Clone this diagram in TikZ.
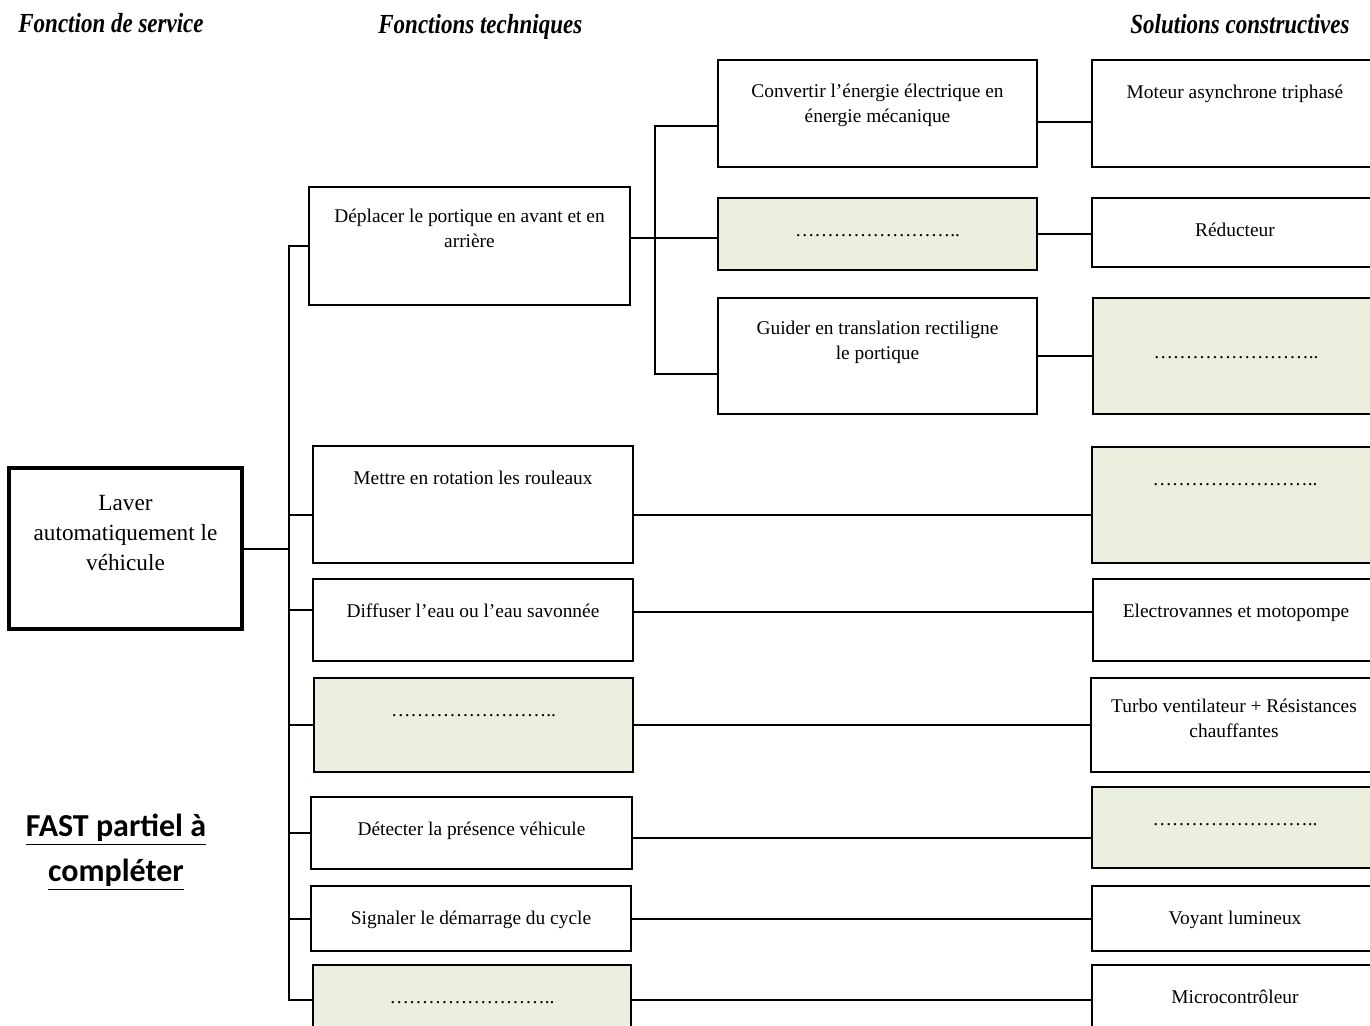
\documentclass[tikz,border=0pt]{standalone}
\usepackage{fontspec}
\setmainfont{Liberation Serif}
\newfontfamily\titlefont{Carlito}
\usepackage{graphicx}
\usetikzlibrary{positioning}
\definecolor{fillgreen}{RGB}{234,240,221}

\tikzset{
  box/.style={draw, line width=1.4pt, inner sep=0pt},
  todo/.style={box, fill=fillgreen},
  txt/.style={inner sep=0pt, anchor=north, align=center,
    font=\fontsize{9.7}{12.5}\selectfont, execute at begin node=\strut},
  link/.style={line width=1pt},
  head/.style={inner sep=0pt, anchor=base west,
    font=\fontsize{11.5}{14}\selectfont\bfseries\itshape}
}

\begin{document}
\begin{tikzpicture}[x=0.5pt, y=-0.5pt]
\clip (0,0) rectangle (1370,1025);
% column titles
\node[head] (fs) at (18,32) {\scalebox{1}[1.2]{Fonction de service}};
\node[head] (ft) at (378,33) {\scalebox{1}[1.2]{Fonctions techniques}};
\node[head] (sc) at (1130,33) {\scalebox{1}[1.2]{Solutions constructives}};

% service function
\node[box, line width=2pt, minimum width=116.5pt, minimum height=80.5pt] (laver) at (125.5,548.5) {};
\node[txt, font=\fontsize{11.6}{15}\selectfont] (laver-t) at ([yshift=-14.5pt]laver.north) {Laver\\automatiquement le\\véhicule};

% technical functions
\node[box, minimum width=160.5pt, minimum height=59pt] (dep) at (469.5,246) {};
\node[box, minimum width=160pt, minimum height=58.5pt] (rot) at (473,504.5) {};
\node[box, minimum width=160pt, minimum height=41pt] (dif) at (473,620) {};
\node[todo, minimum width=159.5pt, minimum height=47pt] (sec) at (473.5,725) {};
\node[box, minimum width=160.5pt, minimum height=36pt] (det) at (471.5,833) {};
\node[box, minimum width=160pt, minimum height=32.5pt] (sig) at (471,918.5) {};
\node[todo, minimum width=159pt, minimum height=35pt] (cmd) at (472,1000) {};

\node[txt] (dep-t) at ([yshift=-11.5pt]dep.north) {Déplacer le portique en avant et en\\arrière};
\node[txt] (rot-t) at ([yshift=-11pt]rot.north) {Mettre en rotation les rouleaux};
\node[txt] (dif-t) at ([yshift=-11pt]dif.north) {Diffuser l'eau ou l'eau savonnée};
\node[txt] (sec-t) at ([yshift=-11pt]sec.north) {……………………..};
\node[txt] (det-t) at ([yshift=-11pt]det.north) {Détecter la présence véhicule};
\node[txt] (sig-t) at ([yshift=-11pt]sig.north) {Signaler le démarrage du cycle};
\node[txt] (cmd-t) at ([yshift=-11pt]cmd.north) {……………………..};

% sub-functions of the gantry motion
\node[box, minimum width=159.5pt, minimum height=53.5pt] (conv) at (877.5,113.5) {};
\node[todo, minimum width=159.5pt, minimum height=36pt] (adap) at (877.5,234) {};
\node[box, minimum width=159.5pt, minimum height=58pt] (gui) at (877.5,356) {};

\node[txt] (conv-t) at ([yshift=-12.5pt]conv.north) {Convertir l'énergie électrique en\\énergie mécanique};
\node[txt] (adap-t) at ([yshift=-11pt]adap.north) {……………………..};
\node[txt] (gui-t) at ([yshift=-12pt]gui.north) {Guider en translation rectiligne\\le portique};

% constructive solutions
\node[box, minimum width=143pt, minimum height=53.5pt] (mot) at (1235,113.5) {};
\node[box, minimum width=143pt, minimum height=34.5pt] (red) at (1235,232.5) {};
\node[todo, minimum width=143pt, minimum height=58pt] (glis) at (1236,356) {};
\node[todo, minimum width=143pt, minimum height=58pt] (motr) at (1235,505) {};
\node[box, minimum width=143pt, minimum height=41pt] (ele) at (1236,620) {};
\node[box, minimum width=143pt, minimum height=47pt] (tur) at (1234,725) {};
\node[todo, minimum width=143pt, minimum height=40.5pt] (capt) at (1235,827.5) {};
\node[box, minimum width=143pt, minimum height=32.5pt] (voy) at (1235,918.5) {};
\node[box, minimum width=143pt, minimum height=35pt] (mic) at (1235,1000) {};

\node[txt] (mot-t) at ([yshift=-11pt]mot.north) {Moteur asynchrone triphasé};
\node[txt] (red-t) at ([yshift=-11pt]red.north) {Réducteur};
\node[txt] (glis-t) at ([yshift=-22pt]glis.north) {……………………..};
\node[txt] (motr-t) at ([yshift=-11pt]motr.north) {……………………..};
\node[txt] (ele-t) at ([yshift=-11pt]ele.north) {Electrovannes et motopompe};
\node[txt] (tur-t) at ([yshift=-11pt]tur.north) {Turbo ventilateur + Résistances\\chauffantes};
\node[txt] (capt-t) at ([yshift=-11pt]capt.north) {……………………..};
\node[txt] (voy-t) at ([yshift=-11pt]voy.north) {Voyant lumineux};
\node[txt] (mic-t) at ([yshift=-11pt]mic.north) {Microcontrôleur};

% title
\node[inner sep=0pt, align=center, font=\titlefont\bfseries\fontsize{16}{22.5}\selectfont] (fast) at (116,852) {\underline{FAST partiel à}\\\underline{compléter}};

% connectors
\coordinate (spine) at (290,0);
\draw[link] (laver.east) -- (spine |- laver.east);
\draw[link] (dep.west) -- ++(-19,0) |- (cmd.west);
\draw[link] ([yshift=-5pt]rot.west) -- ++(-23,0);
\draw[link] ([yshift=5pt]dif.west) -- ++(-23,0);
\draw[link] (sec.west) -- (spine |- sec.west);
\draw[link] (det.west) -- (spine |- det.west);
\draw[link] (sig.west) -- (spine |- sig.west);

\draw[link] ([yshift=4pt]dep.east) -- ++(26,0);
\draw[link] ([yshift=-6pt]conv.west) -- ++(-62,0) |- ([yshift=-9pt]gui.west);
\draw[link] ([yshift=-2pt]adap.west) -- ++(-62,0);

\draw[link] ([yshift=-4pt]conv.east) -- ([yshift=-4pt]mot.west);
\draw[link] (adap.east) -- (red.west |- adap.east);
\draw[link] (gui.east) -- (glis.west |- gui.east);
\draw[link] ([yshift=-5pt]rot.east) -- ++(459,0);
\draw[link] ([yshift=4pt]dif.east) -- ([yshift=4pt]ele.west);
\draw[link] (sec.east) -- (tur.west |- sec.east);
\draw[link] ([yshift=-2.5pt]det.east) -- ++(460,0);
\draw[link] (sig.east) -- (voy.west |- sig.east);
\draw[link] (cmd.east) -- (mic.west |- cmd.east);
\end{tikzpicture}
\end{document}
